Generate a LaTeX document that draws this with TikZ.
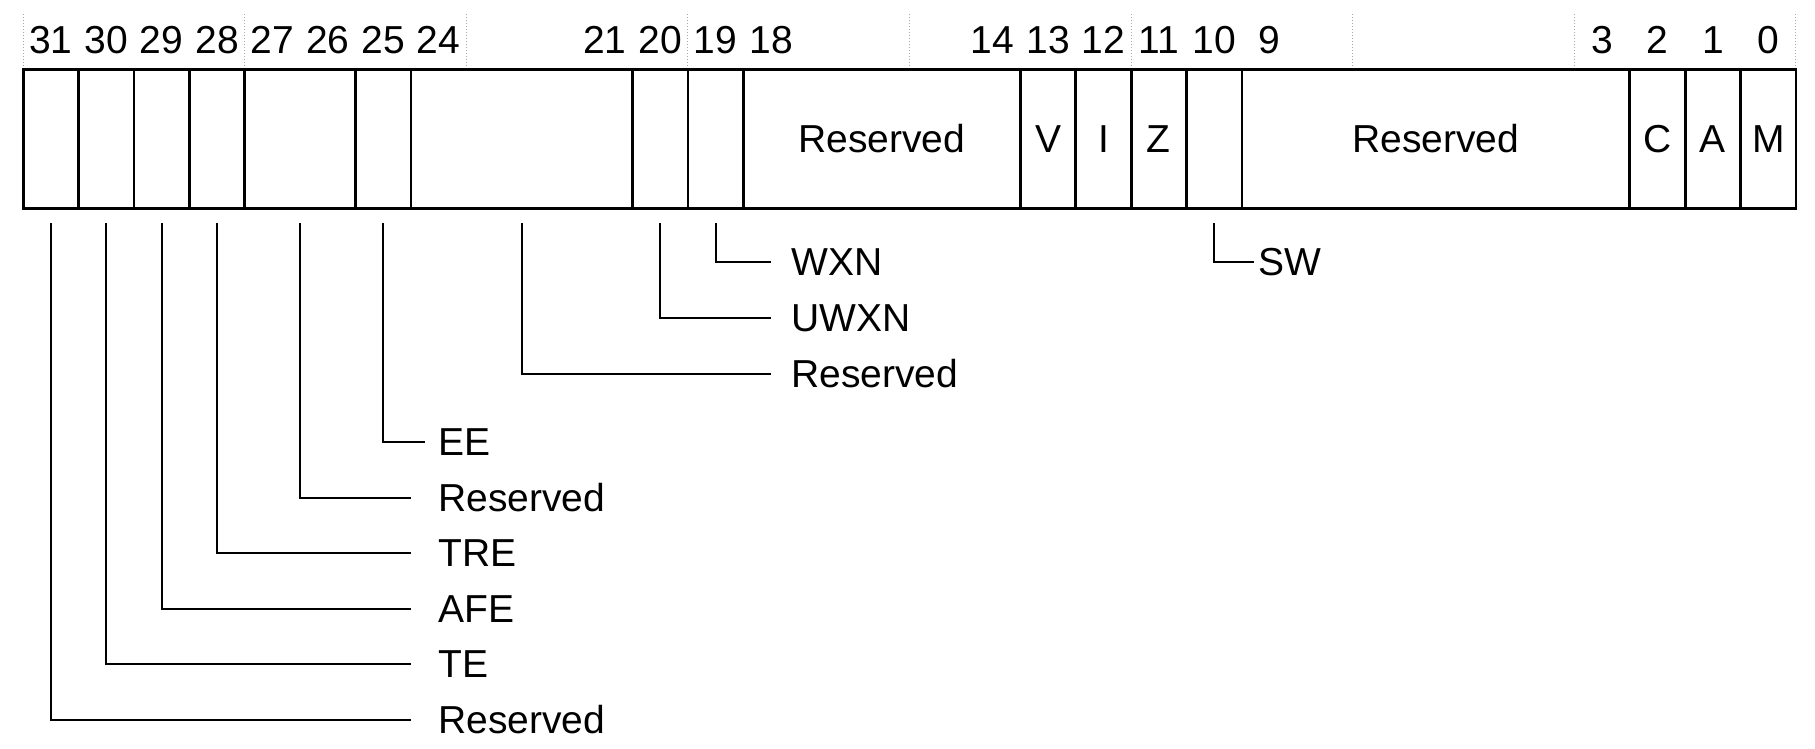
\documentclass[tikz,border=0pt]{standalone}
\usepackage{fontspec}
\setmainfont{Liberation Sans}
\begin{document}
\begin{tikzpicture}[x=1pt,y=-1pt,
  every node/.style={font=\fontsize{39}{46}\selectfont},
  field/.style={draw, line width=2.8pt, anchor=north west, minimum height=138.8pt,
    inner sep=0pt, outer sep=0pt, text height=27.9pt, text depth=0pt},
  bitnum/.style={inner sep=0pt, text height=27.9pt, text depth=0pt},
  lbl/.style={anchor=west, inner sep=0pt, text height=27.9pt, text depth=0pt},
  leader/.style={line width=2pt},
  guide/.style={gray!70, dotted, line width=1pt}]
\useasboundingbox (0,0) rectangle (1815,748);
% dotted guides every 4 bits
\foreach \k in {0,4,...,32}
  \draw[guide] ({23.15+55.4*\k},14) -- ({23.15+55.4*\k},69.5);
% fields
\foreach \hi/\lo/\txt in {31/31/{},30/30/{},29/29/{},28/28/{},27/26/{},25/25/{},24/21/{},
    20/20/{},19/19/{},18/14/Reserved,13/13/V,12/12/I,11/11/Z,10/10/{},9/3/Reserved,
    2/2/C,1/1/A,0/0/M}
  \node[field, minimum width={55.4*(\hi-\lo+1)}] (f\hi) at ({23.15+55.4*(31-\hi)},69.5) {\txt};
% bit numbers
\foreach \b in {31,30,29,28,27,26,25,24,21,20,19,18,14,13,12,11,10,9,3,2,1,0}
  \node[bitnum] (b\b) at ({23.15+55.4*(31-\b)+27.7},40) {\b};
% labels
\node[lbl] (l31) at (438,719.5) {Reserved};
\node[lbl] (l30) at (438,664) {TE};
\node[lbl] (l29) at (438,608.5) {AFE};
\node[lbl] (l28) at (438,553) {TRE};
\node[lbl] (l27) at (438,497.5) {Reserved};
\node[lbl] (l25) at (438,442) {EE};
\node[lbl] (l24) at (791,374) {Reserved};
\node[lbl] (l20) at (791,318) {UWXN};
\node[lbl] (l19) at (791,262) {WXN};
\node[lbl] (l10) at (1258,262) {SW};
% leaders
\foreach \f/\g in {31/27,30/27,29/27,28/27,27/27,25/13,24/20,20/20,19/20,10/4}
  \draw[leader] ([yshift=-14.7pt]f\f.south) |- ([xshift=-\g pt]l\f.west);
\end{tikzpicture}
\end{document}
